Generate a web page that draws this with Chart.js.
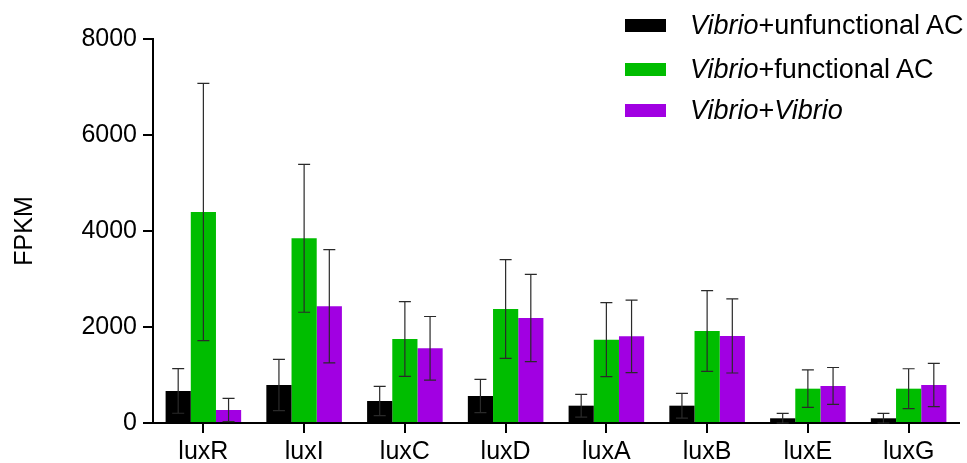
<!DOCTYPE html>
<html>
<head>
<meta charset="utf-8">
<script src="https://cdn.jsdelivr.net/npm/chart.js@4"></script>
<style>
    body { margin: 0; background: #fff; }
    #wrap { position: relative; width: 967px; height: 463px; }
    #legend { position: absolute; left: 0; top: 0; font-family: "Liberation Sans", Arial, sans-serif; font-size: 27px; color: #000; }
    .row { position: absolute; left: 625px; display: flex; align-items: center; white-space: nowrap; height: 30px; }
    .box { width: 41px; height: 13px; margin-right: 24px; }
</style>
</head>
<body>
<div id="wrap">
    <canvas id="barChart" width="967" height="463"></canvas>
    <div id="legend"></div>
</div>
<script>
// data (FPKM, mean and error)
const categories = ["luxR", "luxI", "luxC", "luxD", "luxA", "luxB", "luxE", "luxG"];

const unfunctionalAC = [667, 792, 458, 563, 361, 361, 98, 98];
const unfunctionalErr = [464, 535, 306, 347, 237, 258, 104, 104];

const functionalAC = [4396, 3847, 1750, 2375, 1736, 1917, 715, 715];
const functionalErr = [2680, 1540, 778, 1030, 771, 841, 390, 415];

const vibrioVibrio = [271, 2431, 1556, 2188, 1806, 1813, 771, 792];
const vibrioErr = [243, 1180, 663, 910, 755, 771, 385, 452];

const yTicks = [0, 2000, 4000, 6000, 8000];

const seriesNames = ["Vibrio+unfunctional AC", "Vibrio+functional AC", "Vibrio+Vibrio"];
const legendHtml = ["<i>Vibrio</i>+unfunctional AC", "<i>Vibrio</i>+functional AC", "<i>Vibrio</i>+<i>Vibrio</i>"];
const colors = ["#000000", "#00bd00", "#a100e2"];

const FONT = "'Liberation Sans', Arial, sans-serif";

// simple error bars drawn on top of the bars
const errorBars = {
    id: "errorBars",
    afterDatasetsDraw(chart) {
        const ctx = chart.ctx;
        const y = chart.scales.y;
        ctx.save();
        ctx.strokeStyle = "#2a2a2a";
        ctx.lineWidth = 1.2;
        chart.data.datasets.forEach((ds, i) => {
            const meta = chart.getDatasetMeta(i);
            meta.data.forEach((bar, j) => {
                const v = ds.data[j];
                const e = ds.errors[j];
                const top = y.getPixelForValue(v + e);
                const bot = y.getPixelForValue(Math.max(v - e, 0));
                const x = bar.x;
                ctx.beginPath();
                ctx.moveTo(x, top);
                ctx.lineTo(x, bot);
                ctx.moveTo(x - 6, top);
                ctx.lineTo(x + 6, top);
                ctx.moveTo(x - 6, bot);
                ctx.lineTo(x + 6, bot);
                ctx.stroke();
            });
        });
        ctx.restore();
    },
};

new Chart(document.getElementById("barChart").getContext("2d"), {
    type: "bar",
    data: {
        labels: categories,
        datasets: [
            { label: seriesNames[0], data: unfunctionalAC, errors: unfunctionalErr, backgroundColor: colors[0] },
            { label: seriesNames[1], data: functionalAC, errors: functionalErr, backgroundColor: colors[1] },
            { label: seriesNames[2], data: vibrioVibrio, errors: vibrioErr, backgroundColor: colors[2] },
        ],
    },
    options: {
        responsive: false,
        animation: false,
        layout: { padding: { top: 39, right: 8, bottom: 0, left: 0 } },
        datasets: { bar: { categoryPercentage: 0.75, barPercentage: 1, borderWidth: 0 } },
        plugins: { legend: { display: false }, tooltip: { enabled: false } },
        scales: {
            x: {
                grid: { offset: false, drawOnChartArea: false, tickLength: 10, color: "#000", lineWidth: 2 },
                border: { color: "#000", width: 2 },
                ticks: { color: "#000", padding: 4, font: { family: FONT, size: 25 } },
                afterFit: (scale) => { scale.height = 40; },
            },
            y: {
                min: 0,
                max: 8000,
                afterBuildTicks: (scale) => { scale.ticks = yTicks.map((v) => ({ value: v })); },
                grid: { drawOnChartArea: false, tickLength: 10, color: "#000", lineWidth: 2 },
                border: { color: "#000", width: 2 },
                ticks: { color: "#000", padding: 6, font: { family: FONT, size: 25 }, callback: (v) => String(v) },
                title: { display: true, text: "FPKM", color: "#000", padding: { top: 10, bottom: 0 }, font: { family: FONT, size: 25 } },
                afterFit: (scale) => { scale.width = 153; },
            },
        },
    },
    plugins: [errorBars],
});

const legendEl = document.getElementById("legend");
const rowTops = [10, 54, 95];
legendHtml.forEach((html, i) => {
    legendEl.innerHTML += `
<div class="row" style="top:${rowTops[i]}px">
    <span class="box" style="background:${colors[i]}"></span>
    <span>${html}</span>
</div>`;
});
</script>
</body>
</html>
